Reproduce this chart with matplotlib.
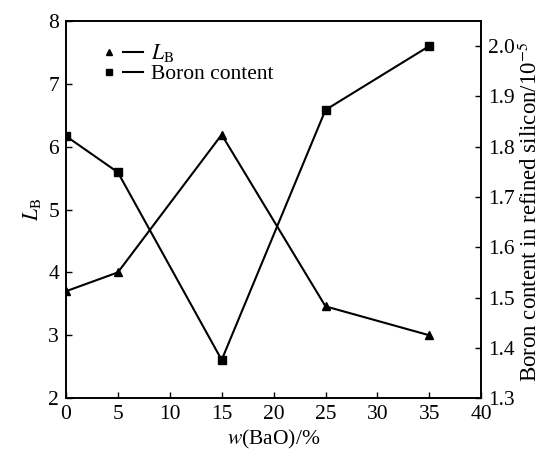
import matplotlib
matplotlib.use('Agg')
import matplotlib.pyplot as plt
from matplotlib.lines import Line2D
from matplotlib.legend_handler import HandlerTuple

# data
bao = [0, 5, 15, 25, 35]
lb = [3.70, 4.00, 6.19, 3.46, 3.00]
boron = [1.821, 1.749, 1.376, 1.873, 2.000]

plt.rcParams['font.family'] = ['Liberation Serif', 'DejaVu Serif']
plt.rcParams['mathtext.fontset'] = 'stix'

fig = plt.figure(figsize=(5.45, 4.54), dpi=100)
ax = fig.add_axes([0.121, 0.123, 0.762, 0.831])
ax2 = ax.twinx()

ax.plot(bao, lb, color='k', lw=1.5, marker='^', ms=6)
ax2.plot(bao, boron, color='k', lw=1.5, marker='s', ms=6)

ax.set_xlim(0, 40)
ax.set_ylim(2, 8)
ax2.set_ylim(1.3, 2.05)
ax.set_xticks(range(0, 41, 5))
ax.set_yticks(range(2, 9))
ax2.set_yticks([1.3, 1.4, 1.5, 1.6, 1.7, 1.8, 1.9, 2.0])
ax2.set_yticklabels(['1.3', '1.4', '1.5', '1.6', '1.7', '1.8', '1.9', '2.0'])

for a in (ax, ax2):
    a.tick_params(direction='in', labelsize=15.5, length=4, width=1, pad=5)
    for s in a.spines.values():
        s.set_linewidth(1.2)

ax.set_xlabel(r'$w$(BaO)/%', fontsize=15.5, labelpad=3)
ax.set_ylabel(r'$L_\mathrm{B}$', fontsize=15.5, labelpad=4)
# right label sits close to the figure edge in the original
fig.text(0.972, 0.533, r'Boron content in refined silicon/10$^{-5}$',
         rotation=90, ha='center', va='center', fontsize=16.5)

h1 = (Line2D([], [], color='k', marker='^', ms=5, ls='none'),
      Line2D([], [], color='k', lw=1.5))
h2 = (Line2D([], [], color='k', marker='s', ms=5, ls='none'),
      Line2D([], [], color='k', lw=1.5))
ax.legend([h1, h2], [r'$L_\mathrm{B}$', 'Boron content'],
          handler_map={tuple: HandlerTuple(ndivide=2, pad=0.2)},
          loc='upper left', bbox_to_anchor=(0.06, 0.966), frameon=False,
          fontsize=15.5, handlelength=2.0, handletextpad=0.4,
          labelspacing=0.0, borderaxespad=0)

fig.savefig('out.png', dpi=100)
